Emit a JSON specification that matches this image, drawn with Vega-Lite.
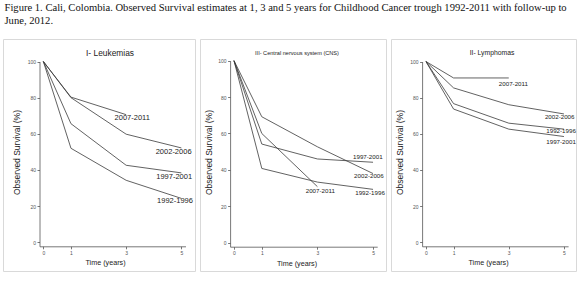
{
  "$schema": "https://vega.github.io/schema/vega-lite/v6.json",
  "padding": {"left": 2, "top": 2, "right": 0, "bottom": 0},
  "background": "white",
  "title": {
    "text": ["Figure 1. Cali, Colombia. Observed Survival estimates at 1, 3 and 5 years for Childhood Cancer trough 1992-2011 with follow-up to", "June, 2012."],
    "font": "Liberation Serif", "fontSize": 10.6, "fontWeight": "normal", "color": "#111",
    "anchor": "start", "lineHeight": 13, "offset": 12, "dx": 2
  },
  "spacing": 3,
  "config": {
    "view": {"stroke": "#d9d9d9", "strokeWidth": 1},
    "axis": {
      "grid": false, "domainColor": "#555", "domainWidth": 0.8, "tickColor": "#555", "tickWidth": 0.8, "tickSize": 2.5,
      "labelFont": "Liberation Sans", "labelFontSize": 5, "labelColor": "#555", "labelPadding": 1.5, "labelFlush": false, "labelOverlap": false,
      "titleFont": "Liberation Sans", "titleFontWeight": "normal", "titleColor": "#222"
    }
  },
  "datasets": {
    "surv": [
      {"panel": "L", "cohort": "2007-2011", "t": 0, "s": 100},
      {"panel": "L", "cohort": "2007-2011", "t": 1, "s": 80.3},
      {"panel": "L", "cohort": "2007-2011", "t": 3, "s": 70.6},
      {"panel": "L", "cohort": "2002-2006", "t": 0, "s": 100},
      {"panel": "L", "cohort": "2002-2006", "t": 1, "s": 80},
      {"panel": "L", "cohort": "2002-2006", "t": 3, "s": 59.8},
      {"panel": "L", "cohort": "2002-2006", "t": 5, "s": 52.2},
      {"panel": "L", "cohort": "1997-2001", "t": 0, "s": 100},
      {"panel": "L", "cohort": "1997-2001", "t": 1, "s": 65.6},
      {"panel": "L", "cohort": "1997-2001", "t": 3, "s": 42.6},
      {"panel": "L", "cohort": "1997-2001", "t": 5, "s": 38.4},
      {"panel": "L", "cohort": "1992-1996", "t": 0, "s": 100},
      {"panel": "L", "cohort": "1992-1996", "t": 1, "s": 52},
      {"panel": "L", "cohort": "1992-1996", "t": 3, "s": 34.3},
      {"panel": "L", "cohort": "1992-1996", "t": 5, "s": 24.3},
      {"panel": "C", "cohort": "1997-2001", "t": 0, "s": 100},
      {"panel": "C", "cohort": "1997-2001", "t": 1, "s": 54.2},
      {"panel": "C", "cohort": "1997-2001", "t": 3, "s": 46},
      {"panel": "C", "cohort": "1997-2001", "t": 5, "s": 44.2},
      {"panel": "C", "cohort": "2002-2006", "t": 0, "s": 100},
      {"panel": "C", "cohort": "2002-2006", "t": 1, "s": 69.2},
      {"panel": "C", "cohort": "2002-2006", "t": 3, "s": 52.7},
      {"panel": "C", "cohort": "2002-2006", "t": 5, "s": 38},
      {"panel": "C", "cohort": "1992-1996", "t": 0, "s": 100},
      {"panel": "C", "cohort": "1992-1996", "t": 1, "s": 40.8},
      {"panel": "C", "cohort": "1992-1996", "t": 3, "s": 33.3},
      {"panel": "C", "cohort": "1992-1996", "t": 5, "s": 29.3},
      {"panel": "C", "cohort": "2007-2011", "t": 0, "s": 100},
      {"panel": "C", "cohort": "2007-2011", "t": 1, "s": 60},
      {"panel": "C", "cohort": "2007-2011", "t": 3, "s": 30.8},
      {"panel": "Y", "cohort": "2007-2011", "t": 0, "s": 100},
      {"panel": "Y", "cohort": "2007-2011", "t": 1, "s": 90.9},
      {"panel": "Y", "cohort": "2007-2011", "t": 3, "s": 90.9},
      {"panel": "Y", "cohort": "2002-2006", "t": 0, "s": 100},
      {"panel": "Y", "cohort": "2002-2006", "t": 1, "s": 85.4},
      {"panel": "Y", "cohort": "2002-2006", "t": 3, "s": 76.1},
      {"panel": "Y", "cohort": "2002-2006", "t": 5, "s": 71},
      {"panel": "Y", "cohort": "1992-1996", "t": 0, "s": 100},
      {"panel": "Y", "cohort": "1992-1996", "t": 1, "s": 76.7},
      {"panel": "Y", "cohort": "1992-1996", "t": 3, "s": 65.9},
      {"panel": "Y", "cohort": "1992-1996", "t": 5, "s": 62.6},
      {"panel": "Y", "cohort": "1997-2001", "t": 0, "s": 100},
      {"panel": "Y", "cohort": "1997-2001", "t": 1, "s": 73.7},
      {"panel": "Y", "cohort": "1997-2001", "t": 3, "s": 62.6},
      {"panel": "Y", "cohort": "1997-2001", "t": 5, "s": 58.5}
    ],
    "labels": [
      {"panel": "L", "cohort": "2007-2011", "t": 2.58, "s": 69},
      {"panel": "L", "cohort": "2002-2006", "t": 4.07, "s": 49.8},
      {"panel": "L", "cohort": "1997-2001", "t": 4.09, "s": 36.3},
      {"panel": "L", "cohort": "1992-1996", "t": 4.12, "s": 23},
      {"panel": "C", "cohort": "1997-2001", "t": 4.28, "s": 46.9},
      {"panel": "C", "cohort": "2002-2006", "t": 4.32, "s": 36.4},
      {"panel": "C", "cohort": "1992-1996", "t": 4.36, "s": 27.5},
      {"panel": "C", "cohort": "2007-2011", "t": 2.58, "s": 28.6},
      {"panel": "Y", "cohort": "2007-2011", "t": 2.64, "s": 87.4},
      {"panel": "Y", "cohort": "2002-2006", "t": 4.31, "s": 69.3},
      {"panel": "Y", "cohort": "1992-1996", "t": 4.36, "s": 61.7},
      {"panel": "Y", "cohort": "1997-2001", "t": 4.36, "s": 55.7}
    ]
  },
  "hconcat": [
    {
      "width": 192, "height": 232,
      "title": {"text": "I- Leukemias", "font": "Liberation Sans", "fontSize": 8.4, "fontWeight": "normal", "color": "#222", "anchor": "middle", "dx": 11, "offset": -18},
      "encoding": {
        "x": {"field": "t", "type": "quantitative",
          "scale": {"domain": [-0.14, 5.15], "range": [36.5, 182.5], "nice": false, "zero": false},
          "axis": {"values": [0, 1, 3, 5], "offset": -24.7, "title": "Time (years)", "titleX": 102, "titleY": 16.5, "titleBaseline": "middle", "titleFontSize": 7.2, "titleFontWeight": "normal"}},
        "y": {"field": "s", "type": "quantitative",
          "scale": {"domain": [-2.2, 100], "range": [207.3, 22.5], "nice": false, "zero": false},
          "axis": {"values": [0, 20, 40, 60, 80, 100], "offset": -36.5, "title": "Observed Survival (%)", "titleX": -23.5, "titleY": 113, "titleAngle": -90, "titleBaseline": "middle", "titleAlign": "center", "titleFontSize": 8.5, "titleFontWeight": "normal"}}
      },
      "layer": [
        {"data": {"name": "surv"}, "transform": [{"filter": "datum.panel == 'L'"}],
         "mark": {"type": "line", "color": "#3a3a3a", "strokeWidth": 0.8},
         "encoding": {"detail": {"field": "cohort"}}},
        {"data": {"name": "labels"}, "transform": [{"filter": "datum.panel == 'L'"}],
         "mark": {"type": "text", "align": "left", "baseline": "middle", "font": "Liberation Sans", "fontSize": 7.5, "color": "#222"},
         "encoding": {"text": {"field": "cohort"}}}
      ]
    },
    {
      "width": 186, "height": 232,
      "title": {"text": "III- Central nervous system (CNS)", "font": "Liberation Sans", "fontSize": 5.6, "fontWeight": "normal", "color": "#222", "anchor": "middle", "dx": 4, "offset": -18},
      "encoding": {
        "x": {"field": "t", "type": "quantitative",
          "scale": {"domain": [-0.14, 5.15], "range": [30.1, 177.2], "nice": false, "zero": false},
          "axis": {"values": [0, 1, 3, 5], "offset": -24.3, "title": "Time (years)", "titleX": 96.5, "titleY": 16.5, "titleBaseline": "middle", "titleFontSize": 7.2, "titleFontWeight": "normal"}},
        "y": {"field": "s", "type": "quantitative",
          "scale": {"domain": [-2.2, 100], "range": [207.7, 21.7], "nice": false, "zero": false},
          "axis": {"values": [0, 20, 40, 60, 80, 100], "offset": -30.1, "title": "Observed Survival (%)", "titleX": -22, "titleY": 113, "titleAngle": -90, "titleBaseline": "middle", "titleAlign": "center", "titleFontSize": 8.5, "titleFontWeight": "normal"}}
      },
      "layer": [
        {"data": {"name": "surv"}, "transform": [{"filter": "datum.panel == 'C'"}],
         "mark": {"type": "line", "color": "#3a3a3a", "strokeWidth": 0.8},
         "encoding": {"detail": {"field": "cohort"}}},
        {"data": {"name": "labels"}, "transform": [{"filter": "datum.panel == 'C'"}],
         "mark": {"type": "text", "align": "left", "baseline": "middle", "font": "Liberation Sans", "fontSize": 6.2, "color": "#222"},
         "encoding": {"text": {"field": "cohort"}}}
      ]
    },
    {
      "width": 185, "height": 232,
      "title": {"text": "II- Lymphomas", "font": "Liberation Sans", "fontSize": 6.8, "fontWeight": "normal", "color": "#222", "anchor": "middle", "dx": 8.5, "offset": -18},
      "encoding": {
        "x": {"field": "t", "type": "quantitative",
          "scale": {"domain": [-0.14, 5.15], "range": [31.1, 177.1], "nice": false, "zero": false},
          "axis": {"values": [0, 1, 3, 5], "offset": -24.7, "title": "Time (years)", "titleX": 97, "titleY": 16.5, "titleBaseline": "middle", "titleFontSize": 7.2, "titleFontWeight": "normal"}},
        "y": {"field": "s", "type": "quantitative",
          "scale": {"domain": [-2.2, 100], "range": [207.3, 22.5], "nice": false, "zero": false},
          "axis": {"values": [0, 20, 40, 60, 80, 100], "offset": -31.1, "title": "Observed Survival (%)", "titleX": -23, "titleY": 113, "titleAngle": -90, "titleBaseline": "middle", "titleAlign": "center", "titleFontSize": 8.5, "titleFontWeight": "normal"}}
      },
      "layer": [
        {"data": {"name": "surv"}, "transform": [{"filter": "datum.panel == 'Y'"}],
         "mark": {"type": "line", "color": "#3a3a3a", "strokeWidth": 0.8},
         "encoding": {"detail": {"field": "cohort"}}},
        {"data": {"name": "labels"}, "transform": [{"filter": "datum.panel == 'Y'"}],
         "mark": {"type": "text", "align": "left", "baseline": "middle", "font": "Liberation Sans", "fontSize": 6.2, "color": "#222"},
         "encoding": {"text": {"field": "cohort"}}}
      ]
    }
  ]
}
